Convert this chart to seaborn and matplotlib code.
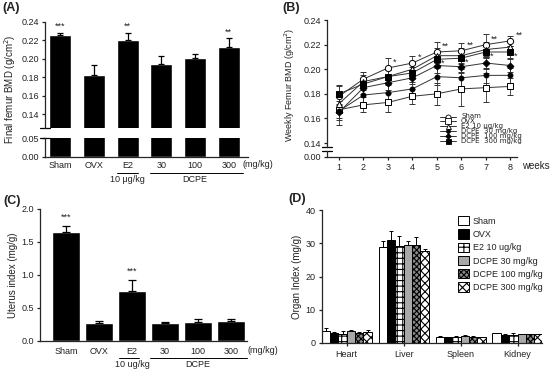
import numpy as np
import pandas as pd
import matplotlib
matplotlib.use("Agg")
import matplotlib.pyplot as plt
from matplotlib.patches import Patch
from matplotlib.lines import Line2D
import seaborn as sns

# ---------------- data ----------------
groups = ["Sham", "OVX", "E2", "30", "100", "300"]
bmd_final = [0.226, 0.183, 0.220, 0.194, 0.201, 0.213]
bmd_final_err = [0.002, 0.010, 0.008, 0.009, 0.004, 0.009]
bmd_final_sig = ["***", "", "**", "", "", "**"]

weeks = [1, 2, 3, 4, 5, 6, 7, 8]
weekly_names = ["Sham", "OVX", "E2 10 μg/kg", "DCPE  30 mg/kg", "DCPE  100 mg/kg", "DCPE  300 mg/kg"]
wk_sham = [0.178, 0.192, 0.201, 0.205, 0.214, 0.215, 0.220, 0.223]
wk_ovx = [0.167, 0.171, 0.173, 0.178, 0.180, 0.184, 0.185, 0.186]
wk_e2 = [0.172, 0.190, 0.194, 0.200, 0.211, 0.211, 0.216, 0.218]
wk_d30 = [0.166, 0.179, 0.181, 0.184, 0.194, 0.193, 0.195, 0.195]
wk_d100 = [0.165, 0.185, 0.189, 0.193, 0.203, 0.202, 0.205, 0.203]
wk_d300 = [0.180, 0.188, 0.194, 0.197, 0.208, 0.209, 0.214, 0.214]
err_sham = [0.009, 0.006, 0.008, 0.006, 0.008, 0.006, 0.009, 0.004]
err_ovx = [0.012, 0.006, 0.008, 0.006, 0.009, 0.014, 0.012, 0.007]
err_e2 = [0.008, 0.005, 0.006, 0.006, 0.006, 0.006, 0.006, 0.005]
err_d30 = [0.006, 0.006, 0.006, 0.006, 0.007, 0.007, 0.006, 0.006]
err_d100 = [0.006, 0.005, 0.006, 0.005, 0.006, 0.005, 0.005, 0.005]
err_d300 = [0.006, 0.005, 0.005, 0.005, 0.006, 0.005, 0.005, 0.005]
sig_sham = ["", "", "*", "*", "**", "**", "**", "**"]
sig_low = ["", "", "", "", "*", "*", "*", "*"]

uterus = [1.65, 0.27, 0.76, 0.27, 0.29, 0.30]
uterus_err = [0.09, 0.03, 0.16, 0.01, 0.04, 0.04]
uterus_sig = ["***", "", "***", "", "", ""]

organs = ["Heart", "Liver", "Spleen", "Kidney"]
organ_groups = ["Sham", "OVX", "E2 10 ug/kg", "DCPE 30 mg/kg", "DCPE 100 mg/kg", "DCPE 300 mg/kg"]
org_sham = [3.5, 29.0, 1.8, 2.8]
org_ovx = [3.0, 31.0, 1.6, 2.4]
org_e2 = [2.5, 29.2, 1.6, 2.4]
org_d30 = [3.4, 29.6, 2.1, 2.6]
org_d100 = [2.8, 29.5, 1.7, 2.5]
org_d300 = [3.2, 27.8, 1.6, 2.5]
orgerr_sham = [0.8, 1.7, 0.3, 0.2]
orgerr_ovx = [0.3, 2.6, 0.1, 0.2]
orgerr_e2 = [1.0, 3.0, 0.5, 0.4]
orgerr_d30 = [0.5, 1.1, 0.2, 0.1]
orgerr_d100 = [0.3, 2.3, 0.2, 0.1]
orgerr_d300 = [0.6, 0.5, 0.2, 0.1]

# ---------------- style ----------------
sns.set_style("ticks")
plt.rcParams["font.family"] = ["Liberation Sans", "DejaVu Sans"]
plt.rcParams["font.size"] = 7
plt.rcParams["axes.linewidth"] = 0.9
plt.rcParams["xtick.major.size"] = 2.5
plt.rcParams["ytick.major.size"] = 2.5
plt.rcParams["xtick.major.width"] = 0.9
plt.rcParams["ytick.major.width"] = 0.9
plt.rcParams["xtick.major.pad"] = 2
plt.rcParams["ytick.major.pad"] = 2
plt.rcParams["xtick.labelsize"] = 6.5
plt.rcParams["ytick.labelsize"] = 6.5
plt.rcParams["hatch.linewidth"] = 0.8
TXT = "#222222"
plt.rcParams["text.color"] = TXT
plt.rcParams["xtick.color"] = TXT
plt.rcParams["ytick.color"] = TXT
plt.rcParams["axes.labelcolor"] = TXT

W, H = 550, 374
fig = plt.figure(figsize=(W / 100, H / 100), dpi=100)


def fax(left, top, right, bottom):
    return fig.add_axes([left / W, 1 - bottom / H, (right - left) / W, (bottom - top) / H])


def break_mark(ax, y):
    ax.plot([-0.025, 0.025], [y, y], transform=ax.transAxes, color="black",
            lw=0.9, clip_on=False)


# ---------------- Panel A ----------------
axA_t = fax(45, 21.7, 248, 128.3)
axA_b = fax(45, 138, 248, 156.7)
for ax in (axA_t, axA_b):
    sns.barplot(x=groups, y=bmd_final, order=groups, color="black", width=0.65,
                errorbar=None, ax=ax, saturation=1)
    ax.errorbar(range(len(groups)), bmd_final,
                yerr=[np.zeros(len(groups)), bmd_final_err],
                fmt="none", ecolor="black", elinewidth=0.9, capsize=2.5, capthick=0.9)
    ax.set_xlim(-0.45, 5.57)
    ax.set_ylabel("")
axA_t.set_ylim(0.125, 0.24)
axA_t.set_yticks([0.14, 0.16, 0.18, 0.20, 0.22, 0.24])
axA_t.set_yticklabels(["0.14", "0.16", "0.18", "0.20", "0.22", "0.24"])
axA_t.tick_params(axis="x", bottom=False, labelbottom=False)
for s in ("top", "right", "bottom"):
    axA_t.spines[s].set_visible(False)
break_mark(axA_t, 0)
for i, s in enumerate(bmd_final_sig):
    if s:
        axA_t.text(i, bmd_final[i] + bmd_final_err[i] + 0.002, s, ha="center",
                   va="bottom", fontsize=6.5)
axA_b.set_ylim(0, 0.05)
axA_b.set_yticks([0, 0.05])
axA_b.set_yticklabels(["0.00", "0.05"])
for s in ("top", "right"):
    axA_b.spines[s].set_visible(False)
break_mark(axA_b, 1)
axA_b.tick_params(axis="x", length=0, pad=3)
tA = axA_b.get_xaxis_transform()
axA_b.plot([1.7, 2.3], [-0.86, -0.86], transform=tA, color="black", lw=0.7, clip_on=False)
axA_b.plot([2.66, 5.42], [-0.86, -0.86], transform=tA, color="black", lw=0.7, clip_on=False)
axA_b.text(2, -1.0, "10 μg/kg", transform=tA, ha="center", va="top", fontsize=6.5)
axA_b.text(4.0, -1.0, "DCPE", transform=tA, ha="center", va="top", fontsize=6.5)
axA_b.text(5.85, -0.2, "(mg/kg)", transform=tA, ha="center", va="top", fontsize=6.5)
fig.text(10 / W, 1 - 89 / H, "Final femur BMD (g/cm$^2$)", rotation=90,
         ha="center", va="center", fontsize=7)
fig.text(2 / W, 1 - 8 / H, "(A)", fontweight="bold", fontsize=9, va="center")

# ---------------- Panel B ----------------
axB_t = fax(327, 20, 516.7, 146.7)
axB_b = fax(327, 150.7, 516.7, 156.7)
series = [
    (wk_sham, err_sham, dict(marker="o", mfc="white", ms=4.5)),
    (wk_ovx, err_ovx, dict(marker="s", mfc="white", ms=5)),
    (wk_e2, err_e2, dict(marker="^", mfc="white", ms=4.5)),
    (wk_d30, err_d30, dict(marker="o", mfc="black", ms=3.5)),
    (wk_d100, err_d100, dict(marker="D", mfc="black", ms=3.5)),
    (wk_d300, err_d300, dict(marker="s", mfc="black", ms=4.5)),
]
for k, ((vals, errs, st), name) in enumerate(zip(series, weekly_names)):
    axB_t.errorbar(weeks, vals, yerr=errs, color="#333333", lw=0.7, elinewidth=0.6,
                   capsize=2, capthick=0.6, mec="black", mew=0.7, **st)
    # manual legend row
    yrow = 1 - (116.5 + k * 4.8) / H
    hst = dict(st)
    hst["ms"] = st["ms"] * 0.8
    fig.add_artist(Line2D([440 / W, 456 / W], [yrow, yrow], color="#333333", lw=0.7))
    fig.add_artist(Line2D([448 / W], [yrow], color="#333333", lw=0, mec="black",
                          mew=0.6, **hst))
    fig.text(461 / W, yrow, name, fontsize=5, family="DejaVu Sans", va="center",
             ha="left")
for i, s in enumerate(sig_sham):
    if s:
        axB_t.text(weeks[i] + 0.22, wk_sham[i] + 0.001, s, ha="left", va="bottom",
                   fontsize=6.5)
for i, s in enumerate(sig_low):
    if s:
        axB_t.text(weeks[i] + 0.15, wk_d300[i] - 0.007, s, ha="left", va="bottom",
                   fontsize=6.5)
axB_t.set_xlim(0.51, 8.26)
axB_t.set_ylim(0.137, 0.24)
axB_t.set_yticks([0.14, 0.16, 0.18, 0.20, 0.22, 0.24])
axB_t.set_yticklabels(["0.14", "0.16", "0.18", "0.20", "0.22", "0.24"])
axB_t.tick_params(axis="x", bottom=False, labelbottom=False)
for s in ("top", "right", "bottom"):
    axB_t.spines[s].set_visible(False)
break_mark(axB_t, 0)
axB_b.set_xlim(0.51, 8.26)
axB_b.set_ylim(0, 1)
axB_b.set_yticks([0])
axB_b.set_yticklabels(["0.00"])
axB_b.set_xticks(weeks)
axB_b.set_xticklabels([str(w) for w in weeks])
for s in ("top", "right"):
    axB_b.spines[s].set_visible(False)
break_mark(axB_b, 1)
fig.text(522 / W, 1 - 166 / H, "weeks", fontsize=7, va="center")
fig.text(290 / W, 1 - 85 / H, "Weekly Femur BMD (g/cm$^2$)", rotation=90,
         ha="center", va="center", fontsize=6.5)
fig.text(282 / W, 1 - 8 / H, "(B)", fontweight="bold", fontsize=9, va="center")

# ---------------- Panel C ----------------
axC = fax(40, 208.7, 247, 341)
sns.barplot(x=groups, y=uterus, order=groups, color="black", width=0.85,
            errorbar=None, ax=axC, saturation=1)
axC.errorbar(range(len(groups)), uterus, yerr=[np.zeros(len(groups)), uterus_err],
             fmt="none", ecolor="black", elinewidth=0.9, capsize=3, capthick=0.9)
for i, s in enumerate(uterus_sig):
    if s:
        axC.text(i, uterus[i] + uterus_err[i] + 0.06, s, ha="center", va="bottom",
                 fontsize=6.5)
axC.set_xlim(-0.79, 5.48)
axC.set_ylim(0, 2.0)
axC.set_yticks([0, 0.5, 1.0, 1.5, 2.0])
axC.set_yticklabels(["0.0", "0.5", "1.0", "1.5", "2.0"])
axC.set_ylabel("")
fig.text(13 / W, 1 - 275 / H, "Uterus index (mg/g)", rotation=90,
         ha="center", va="center", fontsize=7)
axC.tick_params(axis="x", length=0, pad=4)
for s in ("top", "right"):
    axC.spines[s].set_visible(False)
tC = axC.get_xaxis_transform()
axC.plot([1.6, 2.2], [-0.126, -0.126], transform=tC, color="black", lw=0.7, clip_on=False)
axC.plot([2.55, 5.48], [-0.126, -0.126], transform=tC, color="black", lw=0.7, clip_on=False)
axC.text(2, -0.14, "10 ug/kg", transform=tC, ha="center", va="top", fontsize=6.5)
axC.text(4.0, -0.14, "DCPE", transform=tC, ha="center", va="top", fontsize=6.5)
axC.text(5.95, -0.035, "(mg/kg)", transform=tC, ha="center", va="top", fontsize=6.5)
fig.text(3 / W, 1 - 201 / H, "(C)", fontweight="bold", fontsize=9, va="center")

# ---------------- Panel D ----------------
axD = fax(321.7, 210.3, 542, 342.7)
org_vals = [org_sham, org_ovx, org_e2, org_d30, org_d100, org_d300]
org_errs = [orgerr_sham, orgerr_ovx, orgerr_e2, orgerr_d30, orgerr_d100, orgerr_d300]
df = pd.DataFrame({
    "organ": [o for _ in organ_groups for o in organs],
    "group": [g for g in organ_groups for _ in organs],
    "value": [v for vals in org_vals for v in vals],
})
sns.barplot(data=df, x="organ", y="value", hue="group", order=organs,
            hue_order=organ_groups, width=0.88, errorbar=None, ax=axD,
            legend=False, saturation=1, palette=["white"] * 6)
styles = [
    dict(facecolor="white", hatch=None),
    dict(facecolor="black", hatch=None),
    dict(facecolor="white", hatch="+++"),
    dict(facecolor="#a8a8a8", hatch=None),
    dict(facecolor="#8a8a8a", hatch="xxxxxx"),
    dict(facecolor="white", hatch="xxxx"),
]
bars = axD.patches
for gi in range(len(organ_groups)):
    xs = []
    for oi in range(len(organs)):
        p = bars[gi * len(organs) + oi]
        p.set_facecolor(styles[gi]["facecolor"])
        p.set_edgecolor("black")
        p.set_linewidth(0.7)
        if styles[gi]["hatch"]:
            p.set_hatch(styles[gi]["hatch"])
        xs.append(p.get_x() + p.get_width() / 2)
    axD.errorbar(xs, org_vals[gi], yerr=[np.zeros(len(organs)), org_errs[gi]],
                 fmt="none", ecolor="black", elinewidth=0.7, capsize=1.5, capthick=0.7)
axD.set_xlim(-0.44, 3.43)
axD.set_ylim(0, 40)
axD.set_yticks([0, 10, 20, 30, 40])
axD.set_xlabel("")
axD.set_ylabel("")
fig.text(297 / W, 1 - 277 / H, "Organ Index (mg/g)", rotation=90,
         ha="center", va="center", fontsize=7)
axD.tick_params(axis="x", length=2.5, pad=3)
for s in ("top", "right"):
    axD.spines[s].set_visible(False)
leg_handles = [Patch(facecolor=st["facecolor"], edgecolor="black", lw=0.7,
                     hatch=st["hatch"]) for st in styles]
axD.legend(leg_handles, organ_groups, loc="upper left",
           bbox_to_anchor=(458 / W, 1 - 216 / H), bbox_transform=fig.transFigure,
           frameon=False, fontsize=6.5, handlelength=1.2, handleheight=1.2,
           labelspacing=0.4, handletextpad=0.45, borderpad=0, borderaxespad=0)
fig.text(288 / W, 1 - 199 / H, "(D)", fontweight="bold", fontsize=9, va="center")

fig.savefig("out.png", dpi=100)
